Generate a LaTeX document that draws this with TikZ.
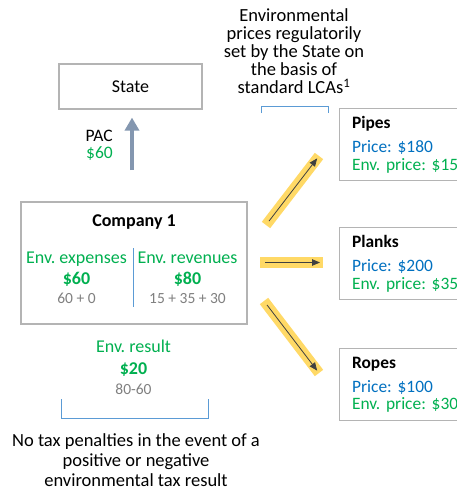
\documentclass[tikz,border=0pt]{standalone}
\usepackage{fontspec}
\setmainfont{Carlito}
\usetikzlibrary{positioning, arrows.meta, calc}
\definecolor{envgreen}{HTML}{00B050}
\definecolor{priceblue}{HTML}{0070C0}
\definecolor{notegray}{HTML}{808080}
\definecolor{boxgray}{HTML}{B4B4B4}
\definecolor{linkblue}{HTML}{5B9BD5}
\definecolor{pacblue}{HTML}{8497B0}
\definecolor{bandyellow}{HTML}{FFD966}
\definecolor{tipgray}{HTML}{404040}
\frenchspacing

\begin{document}
\begin{tikzpicture}[x=1pt, y=-1pt,
    every node/.style={font=\fontsize{18}{18}\selectfont, inner sep=0pt},
    box/.style={draw=boxgray, line width=1.2pt},
    prodbox/.style={box, anchor=north west, text width=130pt, align=left,
                    minimum height=72pt, inner xsep=12.5pt,
                    font=\fontsize{17.4}{17.5}\selectfont},
    line/.style={anchor=base},
    small/.style={anchor=base, font=\fontsize{15.5}{16}\selectfont, text=notegray},
    bracket/.style={draw=linkblue, line width=0.8pt},
    band/.style={draw=bandyellow, line width=10.5pt},
    flow/.style={draw=tipgray, line width=0.8pt, -{Triangle[length=8pt, width=6.5pt]},
                 shorten <=5pt, shorten >=3pt},
    pacarrow/.style={draw=pacblue, line width=3.5pt, -{Triangle[length=13pt, width=14pt]}}]
  \clip (0,0) rectangle (457,493);
  \fill[white] (0,0) rectangle (457,493);

  % the State and what is paid to it
  \node[box, minimum width=143pt, minimum height=45pt] (state) at (130.5,86.5) {State};
  \node[align=right, anchor=base east, font=\fontsize{17.5}{17}\selectfont] (pac) at (113,158.5)
    {PAC\\\textcolor{envgreen}{\$60}};
  \coordinate (pacfoot) at (132,170);
  \draw[pacarrow, shorten >=8pt] (pacfoot) -- (pacfoot |- state.south);

  % regulatory prices (base = last line)
  \node[align=center, anchor=base, font=\fontsize{18.5}{17.9}\selectfont] (pricing) at (294,93.3)
    {Environmental\\prices regulatorily\\set by the State on\\the basis of\\standard LCAs\textsuperscript{1}};
  \draw[bracket] (261,113) -- (261,106) -- (328,106) -- (328,113);

  % company
  \node[box, minimum width=226pt, minimum height=122pt] (company) at (134,263) {};
  \node[line] (cotitle) at (134,226) {\textbf{Company 1}};
  \node[line, text=envgreen] (expenses) at (76.5,263) {Env. expenses};
  \node[line, text=envgreen] (expval) at (76.5,284) {\textbf{\$60}};
  \node[small] (expsum) at (76.5,303) {60 + 0};
  \node[line, text=envgreen] (revenues) at (187.5,263) {Env. revenues};
  \node[line, text=envgreen] (revval) at (187.5,284) {\textbf{\$80}};
  \node[small] (revsum) at (187.5,303) {15 + 35 + 30};
  \draw[bracket] (133,248) -- (133,307);

  % result
  \node[line, text=envgreen] (result) at (133.5,352) {Env. result};
  \node[line, text=envgreen] (resval) at (133.5,374) {\textbf{\$20}};
  \node[small] (ressum) at (133.5,394) {80-60};
  \draw[bracket] (61,399) -- (61,418) -- (208,418) -- (208,399);
  \node[align=center, anchor=base, font=\fontsize{18.5}{20}\selectfont] (verdict) at (136,486)
    {No tax penalties in the event of a\\positive or negative\\environmental tax result};

  % products
  \node[prodbox] (pipes) at (339,108)
    {\textbf{Pipes}\\[6.5pt]\textcolor{priceblue}{Price: \$180}\\\textcolor{envgreen}{Env. price: \$15}};
  \node[prodbox] (planks) at (339,227)
    {\textbf{Planks}\\[6.5pt]\textcolor{priceblue}{Price: \$200}\\\textcolor{envgreen}{Env. price: \$35}};
  \node[prodbox] (ropes) at (339,348)
    {\textbf{Ropes}\\[6.5pt]\textcolor{priceblue}{Price: \$100}\\\textcolor{envgreen}{Env. price: \$30}};

  \coordinate (pipesfrom) at (266,225);
  \coordinate (pipesto) at (319,156);
  \coordinate (planksfrom) at (260,262.5);
  \coordinate (planksto) at (323,262.5);
  \coordinate (ropesfrom) at (264,301);
  \coordinate (ropesto) at (319,373);
  \foreach \prod in {pipes, planks, ropes}{
    \draw[band] (\prod from) -- (\prod to);
    \draw[flow] (\prod from) -- (\prod to);
  }
\end{tikzpicture}
\end{document}
